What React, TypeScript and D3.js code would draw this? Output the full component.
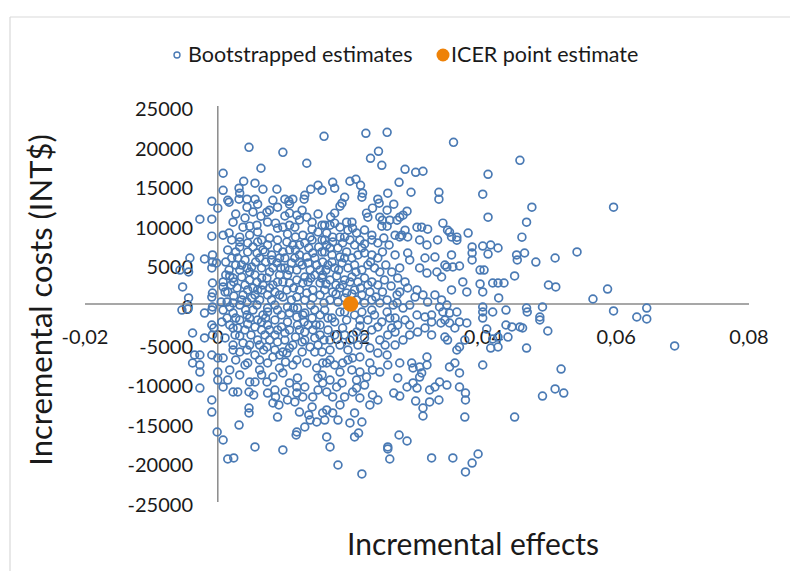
import React from "react";
import * as d3 from "d3";

// Bootstrapped incremental [effect, cost] pairs
const bootstrapped: [number, number][] = [
  [0.0047,19780],[0.0098,19150],[0.016,21170],[0.0223,21550],[0.0255,21670],[0.0355,20410],[0.0242,19280],[0.023,18400],[0.0455,18140],[0.0134,17770],
  [0.0065,17140],[0.0008,16510],[0.0247,17510],[0.0282,17010],[0.0298,16630],[0.0309,16760],[0.0407,16380],[0.0039,15500],[0.0056,15250],[0.0068,14490],[0.0032,14620],[0.0033,13990],[0.0008,14360],[0.0089,14490],[0.014,14490],[0.0151,14990],[0.0157,14360],[0.0199,15500],[0.0208,15750],[0.0215,14990],[0.0173,15370],[0.0176,14620],[0.0273,15370],[0.0291,14110],[0.0333,14110],[0.0333,13230],[0.0399,13860],[0.0218,13990],[0.0217,13480],[0.0256,13990],[0.0191,13480],[0.0241,13230],
  [-0.0009,12980],[0.0015,13100],[0.0017,12850],[0.0032,13230],[0.0044,13230],[0.0056,13230],[0.006,12600],[0.0044,12220],[0.0083,13100],[0.0101,13230],[0.0107,12980],[0.0113,13230],[0.0108,12600],[0.0131,13730],[0.013,13230],[0.009,12220],[0.0078,11840],[0.0074,11590],[0.0108,11470],[0.0119,11210],[0.0127,11840],[0.0065,11090],[-0.0027,10710],[-0.0009,10710],[0.0,12100],[0.0023,10330],[0.0038,9700],[0.0048,9830],[0.0059,9950],[0.0087,10210],[0.009,9580],[0.0098,9700],[0.0108,9950],[0.0116,9700],[0.0134,10960],[0.0142,10330],[0.0142,9450],[0.0157,9950],[-0.0009,8570],[0.0008,8690],[0.0017,8950],[0.0033,8440],[0.0128,8690],[0.0139,8440],
  [0.0233,12100],[0.0255,11840],[0.0265,12600],[0.0285,11720],[0.0279,11210],[0.027,10580],[0.0259,10580],[0.0243,12730],[0.0187,12730],[0.0184,12350],[0.0176,11470],[0.0224,11470],[0.0226,10960],[0.0244,10960],[0.0248,10580],[0.0247,9830],[0.0255,9830],[0.0274,10960],[0.0161,9950],[0.0169,9950],[0.0176,10210],[0.0184,9700],[0.0194,10330],[0.0202,10330],[0.0203,9580],[0.0196,9320],[0.03,9700],[0.0307,9700],[0.0316,9450],[0.0339,10210],[0.0346,9320],[0.0282,9320],[0.0277,8690],[0.0267,8690],[0.0232,8690],[0.0164,8950],[0.0173,8440],[0.0184,8440],[0.0191,8440],[0.0407,10960],[0.0473,12220],[0.0465,10330],[0.0377,8950],[0.0349,9070],[0.036,8440],[0.036,8060],[0.0458,8440],[0.0596,12220],
  [-0.002,5680],[-0.0008,6190],[-0.0008,5300],[-0.0009,4550],[-0.0042,5810],[-0.0057,4290],[-0.0044,4040],[-0.0053,2150],[-0.0008,2650],[-0.0008,1390],[-0.0044,760],[-0.0009,880],[-0.0002,5180],[0.0008,2780],[0.0008,2150],[0.0011,1520],[0.0023,3280],[0.0036,3410],[0.0029,2020],[0.0033,7830],[0.0033,7200],[0.0045,7700],[0.006,7830],[0.0066,8080],[0.0068,6820],[0.0059,6440],[0.0045,6570],[0.0041,5560],[0.0036,4920],[0.0033,4290],[0.0051,4670],[0.0048,4040],[0.0056,3660],[0.0059,2780],[0.0056,1140],[0.0051,760],[0.0044,250],[0.0033,-130],[0.0023,130],[0.0014,250],[0.0005,250],[0.0066,4550],[0.0078,4040],[0.0074,3280],[0.0068,2400],[0.0066,1770],[0.0075,1140],[0.0086,1520],[0.0083,2400],[0.0093,3660],[0.0101,4550],[0.0089,5180],[0.0101,5810],[0.0108,6820],[0.0113,7450],[0.0123,7450],[0.0131,7700],[0.0142,8080],[0.0104,7830],[0.0123,6190],[0.0134,5930],[0.0143,6440],[0.0157,6570],[0.0158,5300],[0.0149,4920],[0.0139,4290],[0.0131,3410],[0.0119,3030],[0.0108,2650],[0.0119,4290],[0.0111,5180],[0.0123,1770],[0.0134,1390],[0.0143,1770],[0.0154,2650],[0.0158,3660],[0.0154,1140],[0.0098,880],[0.0111,510],[0.0086,-130],[0.0063,510],[0.0104,1770],[0.009,7070],[0.0081,6190],[0.0075,7450],
  [0.0157,8080],[0.0164,7450],[0.0173,7830],[0.0181,7070],[0.0188,7700],[0.0199,8080],[0.0206,7450],[0.0214,8080],[0.0221,7580],[0.0232,8080],[0.0241,7700],[0.025,8330],[0.0161,6570],[0.0172,6190],[0.0184,5930],[0.0194,6570],[0.0202,5810],[0.0211,6190],[0.0221,6440],[0.0232,6190],[0.0241,5810],[0.0248,6570],[0.0166,4920],[0.0176,4550],[0.0187,5180],[0.0196,4550],[0.0206,4920],[0.0217,4290],[0.0226,4920],[0.0236,4550],[0.0244,4040],[0.0157,3280],[0.0169,3030],[0.0179,3540],[0.0191,3030],[0.0202,3410],[0.0211,2780],[0.0221,3280],[0.0232,2780],[0.0241,2400],[0.0251,3030],[0.0161,1770],[0.0173,1520],[0.0184,2020],[0.0194,1390],[0.0206,1770],[0.0217,1140],[0.0229,1520],[0.0238,880],[0.0248,1520],[0.0169,510],[0.0181,250],[0.0191,760],[0.0209,510],[0.0221,130],[0.0232,510],[0.0244,130],
  [0.0274,8460],[0.0286,8460],[0.0304,8080],[0.0315,7450],[0.0331,8080],[0.0352,8460],[0.0289,5560],[0.0286,6440],[0.0304,4550],[0.0312,5810],[0.0327,5930],[0.033,4040],[0.0337,3410],[0.0345,4670],[0.0352,1770],[0.0274,4550],[0.0271,3280],[0.0282,2780],[0.0286,2020],[0.03,1770],[0.0297,880],[0.0309,1140],[0.0316,250],[0.0327,1140],[0.0337,510],[0.0334,-380],[0.0345,-130],[0.027,1140],[0.027,130],[0.0279,-510],[0.0289,-130],[0.03,-1390],[0.0312,-1640],[0.0322,-2270],
  [0.0342,4920],[0.0352,6190],[0.0364,4800],[0.0354,4670],[0.0315,3910],[0.0383,7200],[0.0383,6440],[0.0383,5560],[0.0395,4290],[0.0401,4290],[0.0422,7070],[0.0411,7450],[0.0399,7320],[0.0407,6310],[0.045,6190],[0.0451,5560],[0.0462,6440],[0.0479,5300],[0.0508,5810],[0.0541,6570],[0.0447,3540],[0.0369,2780],[0.0375,1520],[0.0395,2530],[0.0399,1520],[0.0414,2650],[0.0422,2650],[0.0431,2650],[0.0423,760],[0.0498,2400],[0.0509,2150],[0.0565,630],[0.0587,1890],
  [-0.0054,-760],[-0.0045,-630],[-0.0009,-760],[-0.002,-1140],[-0.0008,-380],[-0.0009,-2650],[-0.0006,-3030],[-0.0038,-3660],[-0.002,-4290],[-0.0008,-3910],
  [0.0008,-760],[0.0014,-1770],[0.0023,-1140],[0.0033,-2020],[0.0044,-1390],[0.0053,-760],[0.006,-2020],[0.0068,-1390],[0.0056,-2900],[0.0041,-3280],[0.0026,-3910],[0.0011,-4290],[0.0023,-5180],[0.0038,-4920],[0.0048,-5180],[0.006,-4550],[0.0071,-3910],[0.0075,-2650],[0.0086,-2020],[0.0096,-1390],[0.0108,-1140],[0.0119,-1640],[0.0131,-1140],[0.0142,-1770],[0.0154,-1390],[0.0096,-2900],[0.0108,-3280],[0.012,-2650],[0.0131,-3540],[0.0143,-3280],[0.0154,-3910],[0.0086,-3910],[0.0101,-4550],[0.0113,-5180],[0.0127,-4800],[0.0139,-5430],[0.0151,-5180],[0.0074,-5430],[0.0086,-5810],[0.0098,-6060],
  [0.0161,-760],[0.0172,-1770],[0.0184,-1010],[0.0194,-2020],[0.0206,-1390],[0.0217,-1010],[0.0226,-2020],[0.0236,-1390],[0.0247,-2270],[0.0259,-1770],[0.0271,-2650],[0.0282,-2020],[0.0166,-3280],[0.0176,-3910],[0.0188,-3030],[0.0199,-4550],[0.0209,-3540],[0.0221,-4290],[0.0232,-3280],[0.0244,-4550],[0.0256,-3910],[0.0267,-3540],[0.0279,-4550],[0.0289,-3910],[0.0301,-3540],[0.0312,-3030],[0.0322,-3910],[0.0342,-2020],[0.0346,-4550],[0.0357,-3030],
  [0.0322,-1390],[0.0339,-1010],[0.0349,-1140],[0.036,-1010],[0.0364,-2270],[0.0375,-2400],[0.0336,-2400],[0.0349,-2400],[0.0372,-4550],[0.0364,-5430],[0.036,-5810],[0.0342,-4170],
  [0.0399,-380],[0.0399,-1010],[0.0399,-1770],[0.0434,-760],[0.0465,-510],[0.0466,-1010],[0.0489,-380],[0.0455,-2900],[0.0459,-3030],[0.0485,-1640],[0.0485,-2020],[0.0497,-3410],[0.0414,-1010],[0.0405,-3160],[0.0414,-4420],[0.0422,-4170],[0.0437,-4170],[0.0443,-2900],[0.0434,-2650],[0.0422,-5430],[0.0411,-5560],[0.0465,-5560],[0.0596,-880],[0.0646,-510],[0.0631,-1640],[0.0646,-1890],[0.0688,-5300],
  [-0.0035,-6440],[-0.0027,-6440],[-0.0038,-7450],[-0.0027,-7700],[-0.0027,-8590],[-0.0027,-10610],[-0.0009,-6440],[0.0,-6820],[0.0,-8590],[0.0,-9600],[0.0008,-10480],[0.0008,-6820],
  [0.0023,-5810],[0.0033,-6060],[0.0044,-5810],[0.0045,-7450],[0.0063,-7070],[0.0056,-6440],[0.0083,-6690],[0.0093,-6440],[0.0104,-6190],[0.0041,-7700],[0.0048,-9850],[0.0056,-9850],[0.0063,-8330],[0.0066,-8960],[0.0047,-11110],[0.0054,-11490],[0.0023,-11110],[0.003,-11110],[0.0074,-9850],[0.0075,-11240],[0.0086,-10860],[0.0087,-11740],[0.0083,-12500],[0.0092,-12750],[0.009,-14270],[0.0093,-8080],[0.0098,-8710],[0.0083,-9220],[0.0108,-9970],[0.012,-9340],[0.0119,-10480],[0.0105,-12120],[0.0116,-12370],[0.0119,-11240],[0.0131,-10480],[0.0128,-11740],[0.0123,-13640],[0.0137,-14010],[0.0142,-13000],[0.0139,-14650],[0.0149,-14900],[0.0158,-13760],[0.0131,-15530],[0.0119,-16160],[0.0118,-16540],[0.0134,-7450],[0.0119,-7070],[0.0113,-7700],[0.0146,-6060],[0.0157,-6060],[0.0158,-7450],[0.0149,-8080],[0.0151,-9340],[0.0158,-9970],[0.0151,-10860],[0.0143,-11740],[0.0047,-13130],[0.0047,-13760],[0.0032,-15280],[0.0056,-18050],[0.0098,-18430],[-0.0001,-16160],[0.0008,-17170],[0.0015,-19570],[0.0024,-19440],[-0.0009,-12120],[-0.0009,-13640],
  [0.0164,-7450],[0.0157,-8960],[0.0169,-7070],[0.0176,-7700],[0.0188,-7450],[0.0196,-7070],[0.0203,-6820],[0.0214,-6690],[0.0202,-8330],[0.0214,-8590],[0.0224,-9220],[0.0233,-8330],[0.0244,-8590],[0.0229,-7450],[0.0241,-6190],[0.0255,-6440],[0.0256,-7700],[0.0274,-7450],[0.0292,-7450],[0.0304,-7950],[0.0315,-7700],[0.0307,-8710],[0.0271,-9340],[0.0294,-9970],[0.03,-10610],[0.0349,-7950],
  [0.0164,-11110],[0.0173,-11740],[0.0179,-10480],[0.0187,-9970],[0.0191,-11740],[0.0203,-11110],[0.0209,-10610],[0.0233,-11490],[0.0241,-12120],[0.0265,-11240],[0.0274,-11620],[0.0298,-12250],[0.0319,-10860],[0.0327,-10480],[0.0334,-9850],[0.0345,-10230],[0.0319,-12370],[0.0333,-12120],[0.0309,-13130],[0.0309,-14140],
  [0.0164,-13380],[0.0161,-14650],[0.0173,-13760],[0.0181,-14650],[0.0206,-13760],[0.0199,-15020],[0.0217,-14900],[0.0164,-16790],[0.0206,-16790],[0.0212,-16290],[0.0169,-18050],[0.0181,-20330],[0.0217,-21460],[0.0256,-18050],[0.0256,-18300],[0.0259,-19570],[0.0273,-16540],[0.0285,-17300],[0.0322,-19440],[0.0354,-19440],
  [0.0373,-21210],[0.0383,-20080],[0.0392,-18940],[0.0447,-14270],[0.0489,-11620],[0.0508,-10730],[0.0521,-11240],[0.0517,-8210],[0.0399,-7700],[0.0372,-14270],[0.0373,-12120],[0.0373,-11240],[0.0364,-10480],[0.0364,-8710],[0.0357,-7450],[0.0285,-10480],[0.0315,-6690],[0.0304,-9220],[0.0294,-8080],
  [0.0015,6820],[0.0021,5810],[0.0027,4920],[0.0017,4290],[0.0012,5300],[0.002,2400],[0.0015,1520],[0.0041,2400],[0.0045,1770],[0.0038,1140],[0.0053,2020],[0.0063,5810],[0.0072,5300],[0.0083,4550],[0.0093,5810],[0.0098,2780],[0.0105,3660],[0.0116,5810],[0.0127,4920],[0.0136,2780],[0.0146,3660],[0.0152,7200],[0.0163,4290],[0.0178,2400],
  [0.014,-130],[0.012,-510],[0.0105,-380],[0.0075,-510],[0.0059,-130],[0.0042,-760],[0.0018,-2650],[0.003,-3030],[0.005,-3910],[0.0066,-3280],[0.0078,-4550],[0.009,-3280],[0.0105,-2270],[0.0117,-4170],[0.013,-2270],[0.0148,-2650],[0.016,-4550],[0.0169,-5810],[0.0184,-5180],[0.0196,-5810],[0.0127,-6060],[0.0102,-7320],[0.0075,-7450],[0.0069,-5810],[0.0027,-7070],[0.0018,-8330],[0.0033,-8960],[0.0015,-9600],[0.0101,-11110],[0.0169,-9600],[0.0184,-8590],[0.0209,-9600],[0.0221,-10230],[0.0229,-12750],[0.0214,-11870],[0.0184,-12750],
  // dense core, second pass
  [0.0027,11360],[0.0041,10860],[0.0053,11620],[0.0075,10350],[0.0101,11110],[0.0123,10610],[0.0151,11360],[0.017,10980],
  [0.0021,8080],[0.0048,8710],[0.006,9090],[0.0078,8330],[0.009,8080],[0.0105,8840],[0.0117,8460],[0.0151,9090],[0.0209,8960],[0.0221,9340],[0.0161,8080],
  [0.0027,6570],[0.0053,7200],[0.0071,6570],[0.0098,6570],[0.0117,6820],[0.0137,7070],[0.0146,5810],[0.0169,7070],[0.0191,5810],[0.0217,7070],[0.0258,7450],[0.0267,6190],
  [0.0018,3540],[0.003,5810],[0.0044,4550],[0.0057,5300],[0.0081,5560],[0.0095,4550],[0.0108,4290],[0.0123,5300],[0.0136,5180],[0.0154,4290],[0.0172,5300],[0.0182,4290],[0.0208,4040],[0.023,5300],[0.0253,4920],[0.0262,4040],
  [0.0012,3660],[0.0024,2780],[0.0048,3030],[0.0066,3280],[0.0078,2020],[0.009,2780],[0.0114,2020],[0.0128,2650],[0.014,3280],[0.0163,2530],[0.0188,2400],[0.0199,2780],[0.0215,2020],[0.0226,2400],[0.0261,2270],[0.0274,1520],
  [0.0024,1010],[0.0036,510],[0.006,1770],[0.0081,510],[0.0093,1140],[0.0119,880],[0.0131,510],[0.0143,760],[0.016,130],[0.0178,1260],[0.0202,1260],[0.0255,510],[0.0264,-130],
  [0.0018,-380],[0.0027,-1770],[0.0048,-1770],[0.0072,-1770],[0.0075,-1010],[0.009,-760],[0.0114,-510],[0.0128,-1390],[0.0146,-760],[0.0166,-1770],[0.0191,-1010],[0.0214,-2020],[0.0232,-760],[0.0255,-1010],[0.0267,-1770],
  [0.0006,-2270],[0.0023,-3030],[0.0045,-2530],[0.0066,-2270],[0.0078,-3280],[0.0101,-3660],[0.0123,-3280],[0.0136,-2650],[0.0154,-2650],[0.0176,-2270],[0.0214,-2780],[0.0241,-2900],[0.0262,-3030],[0.0289,-2650],
  [0.0033,-4040],[0.0063,-5180],[0.009,-4800],[0.0108,-5560],[0.0131,-4550],[0.0146,-4290],[0.0169,-4550],[0.0191,-3910],[0.0211,-5180],[0.0229,-5560],[0.0252,-5180],[0.0267,-5180]
];

const icerPoint: [number, number] = [0.02, 0];

const xTicks = [-0.02, 0, 0.02, 0.04, 0.06, 0.08];
const yTicks = [25000, 20000, 15000, 10000, 5000, 0, -5000, -10000, -15000, -20000, -25000];

const seriesNames = ["Bootstrapped estimates", "ICER point estimate"];
const xTitle = "Incremental effects";
const yTitle = "Incremental costs (INT$)";

const BLUE = "#4a7ab4";
const ORANGE = "#ee8208";
const AXIS = "#8a8a8a";
const FONT = "Lato, 'Open Sans', sans-serif";

export default function App() {
  const x = d3.scaleLinear().domain([-0.02, 0.08]).range([85, 749]);
  const y = d3.scaleLinear().domain([-25000, 25000]).range([502, 106]);
  const fmtX = (v: number) => (v === 0 ? "0" : v.toFixed(2).replace(".", ","));
  const fmtY = (v: number) => String(v);

  return (
    <svg
      width={790}
      height={571}
      style={{ position: "absolute", left: 0, top: 0, background: "#fff" }}
      fontFamily={FONT}
    >
      <rect x={0} y={0} width={790} height={571} fill="#fff" />
      {/* chart frame */}
      <line x1={10} y1={17} x2={790} y2={17} stroke="#d9d9d9" strokeWidth={1.2} />
      <line x1={10} y1={17} x2={10} y2={571} stroke="#d9d9d9" strokeWidth={1.2} />

      {/* legend */}
      <circle cx={177} cy={55} r={3} fill="none" stroke={BLUE} strokeWidth={1.4} />
      <text x={188} y={62} fontSize={21.5} fill="#1a1a1a">{seriesNames[0]}</text>
      <circle cx={443} cy={55} r={6.5} fill={ORANGE} />
      <text x={451} y={62} fontSize={21.5} fill="#1a1a1a">{seriesNames[1]}</text>

      {/* tick labels */}
      {yTicks.map((t) => (
        <text key={"y" + t} x={193} y={y(t) + 3} dy="0.35em" textAnchor="end" fontSize={20} fill="#1a1a1a">
          {fmtY(t)}
        </text>
      ))}
      {xTicks.map((t) => (
        <text key={"x" + t} x={x(t)} y={337} dy="0.35em" textAnchor="middle" fontSize={20} fill="#1a1a1a">
          {fmtX(t)}
        </text>
      ))}

      {/* axes */}
      <line x1={x(-0.02)} x2={x(0.08)} y1={y(0)} y2={y(0)} stroke={AXIS} strokeWidth={1.5} />
      <line x1={x(0)} x2={x(0)} y1={y(25000)} y2={y(-25000)} stroke={AXIS} strokeWidth={1.5} />

      {/* points */}
      {bootstrapped.map((d, i) => (
        <circle key={i} cx={x(d[0])} cy={y(d[1])} r={3.9} fill="none" stroke={BLUE} strokeWidth={1.7} />
      ))}
      <circle cx={x(icerPoint[0])} cy={y(icerPoint[1])} r={7.8} fill={ORANGE} />

      {/* axis titles */}
      <text x={473} y={555} textAnchor="middle" fontSize={30} fill="#1a1a1a">{xTitle}</text>
      <text transform="translate(52,300) rotate(-90)" textAnchor="middle" fontSize={31} fill="#1a1a1a">{yTitle}</text>
    </svg>
  );
}
